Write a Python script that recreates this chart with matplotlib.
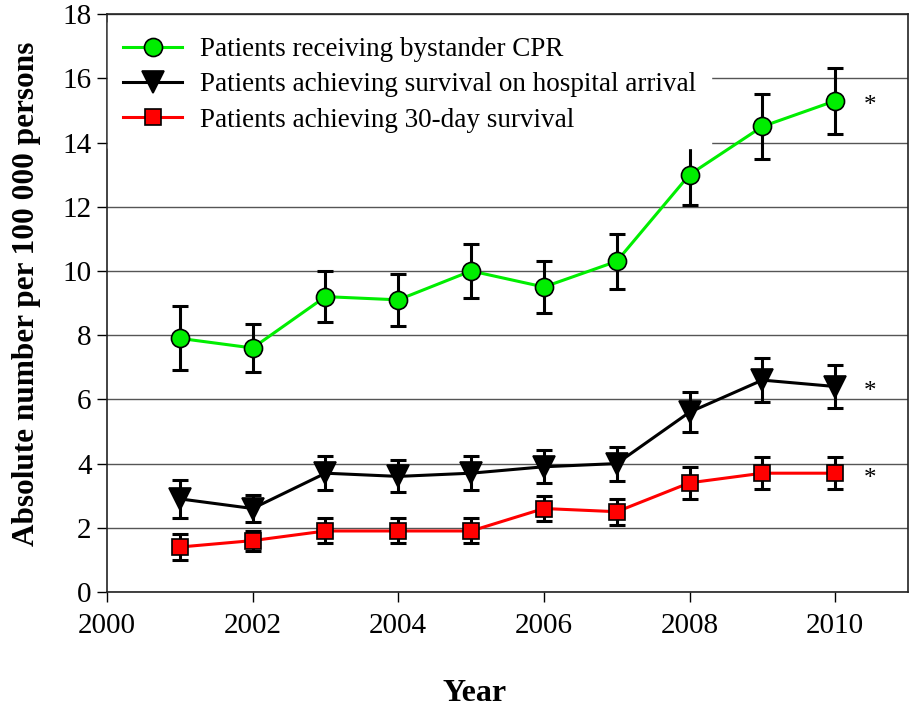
import matplotlib
matplotlib.use('Agg')
import matplotlib.pyplot as plt

# values
years = [2001, 2002, 2003, 2004, 2005, 2006, 2007, 2008, 2009, 2010]

cpr = [7.9, 7.6, 9.2, 9.1, 10.0, 9.5, 10.3, 13.0, 14.5, 15.3]
cpr_err = [1.0, 0.74, 0.8, 0.8, 0.84, 0.82, 0.85, 0.95, 1.0, 1.02]

arrival = [2.9, 2.6, 3.7, 3.6, 3.7, 3.9, 4.0, 5.6, 6.6, 6.4]
arrival_err = [0.6, 0.42, 0.53, 0.5, 0.53, 0.52, 0.53, 0.63, 0.68, 0.67]

day30 = [1.4, 1.6, 1.9, 1.9, 1.9, 2.6, 2.5, 3.4, 3.7, 3.7]
day30_err = [0.4, 0.31, 0.39, 0.39, 0.39, 0.4, 0.4, 0.49, 0.5, 0.5]

labels = ['Patients receiving bystander CPR',
          'Patients achieving survival on hospital arrival',
          'Patients achieving 30-day survival']

x_ticks = [2000, 2002, 2004, 2006, 2008, 2010]
y_ticks = [0, 2, 4, 6, 8, 10, 12, 14, 16, 18]

plt.rcParams['font.family'] = ['Liberation Serif', 'DejaVu Serif']

fig = plt.figure(figsize=(9.09, 7.07), dpi=100)
ax = fig.add_axes([0.1177, 0.1627, 0.8812, 0.8173])

series = [
    (cpr, cpr_err, '#00ee00', 'o', 13, labels[0]),
    (arrival, arrival_err, 'black', 'v', 16, labels[1]),
    (day30, day30_err, '#ff0000', 's', 11, labels[2]),
]

handles = []
for vals, err, col, mk, ms, lab in series:
    ax.errorbar(years, vals, yerr=err, fmt='none', ecolor='black',
                elinewidth=2.2, capsize=5.7, capthick=2.2, zorder=2)
    h, = ax.plot(years, vals, color=col, lw=2.2, marker=mk, ms=ms,
                 markerfacecolor=col, markeredgecolor='black',
                 markeredgewidth=1.2, label=lab, zorder=3)
    handles.append(h)
    # significance mark next to last point
    ax.annotate('*', (years[-1] + 0.48, vals[-1]), xytext=(0, -4),
                textcoords='offset points', fontsize=18,
                ha='center', va='center')

ax.set_xlim(2000, 2011)
ax.set_ylim(0, 18)
ax.set_xticks(x_ticks)
ax.set_yticks(y_ticks)
ax.tick_params(axis='both', direction='out', length=7, width=1,
               labelsize=21)
ax.tick_params(axis='y', pad=4)
ax.tick_params(axis='x', pad=8)

ax.yaxis.grid(True, color='#555555', lw=1)
ax.set_axisbelow(True)
for sp in ax.spines.values():
    sp.set_linewidth(1.2)
    sp.set_color('#222222')

ax.set_xlabel('Year', fontsize=23, fontweight='bold')
ax.xaxis.set_label_coords(0.459, -0.150)
ax.set_ylabel('Absolute number per 100 000 persons', fontsize=22.5,
              fontweight='bold')
ax.yaxis.set_label_coords(-0.083, 0.516)

leg = ax.legend(handles=handles, loc='upper left',
                bbox_to_anchor=(-0.009, 1.0), fontsize=19.5,
                frameon=True, fancybox=False, framealpha=1,
                edgecolor='white', facecolor='white',
                handlelength=2.2, handletextpad=0.65, borderpad=0.55,
                labelspacing=0.38, borderaxespad=0.3)
leg.set_zorder(5)

fig.savefig('out.png', dpi=100)
